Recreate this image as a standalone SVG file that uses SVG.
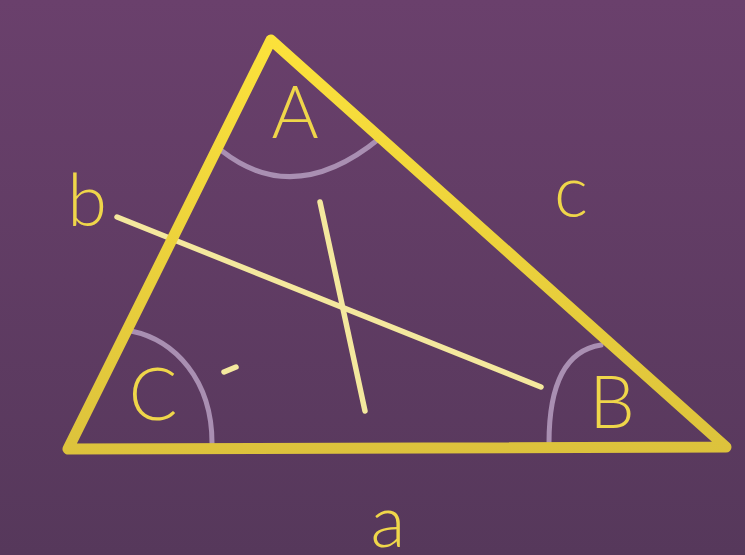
<svg xmlns="http://www.w3.org/2000/svg" width="745" height="555" viewBox="0 0 745 555">
<defs>
<linearGradient id="bg" x1="0" y1="0" x2="0" y2="555" gradientUnits="userSpaceOnUse">
<stop offset="0" stop-color="#6a406c"/>
<stop offset="1" stop-color="#56385b"/>
</linearGradient>
<linearGradient id="ylw" x1="0" y1="35" x2="0" y2="455" gradientUnits="userSpaceOnUse">
<stop offset="0" stop-color="#fce23b"/>
<stop offset="1" stop-color="#dcc23c"/>
</linearGradient>
<style>
.lbl{font-family:"Lato","Open Sans","Liberation Sans",sans-serif;font-weight:300;font-size:72px;fill:#efd64a;text-anchor:middle}
.arc{fill:none;stroke:#a98fb2;stroke-width:5;stroke-linecap:round}
.ln{fill:none;stroke:#f4e89e;stroke-width:5.5;stroke-linecap:round}
</style>
</defs>
<rect width="745" height="555" fill="url(#bg)"/>
<g id="arcs">
<path class="arc" d="M222 151 Q295 208 380 138"/>
<path class="arc" d="M131 331 C175 340 212 380 212 443"/>
<path class="arc" d="M601 345 C568 350 549 380 549 443"/>
</g>
<g id="connectors">
<line class="ln" x1="117" y1="217" x2="541" y2="387"/>
<line class="ln" x1="320" y1="202" x2="365" y2="411"/>
<line class="ln" x1="224" y1="372" x2="236" y2="367"/>
</g>
<g id="triangle">
<polygon points="271,40 68,449 726,447" fill="none" stroke="url(#ylw)" stroke-width="11" stroke-linejoin="round"/>
</g>
<g id="label-A"><text class="lbl" x="295" y="138">A</text></g>
<g id="label-B"><text class="lbl" x="612" y="428">B</text></g>
<g id="label-C"><text class="lbl" x="153" y="420">C</text></g>
<g id="label-a"><text class="lbl" x="388" y="547">a</text></g>
<g id="label-b"><text class="lbl" x="87" y="226">b</text></g>
<g id="label-c"><text class="lbl" x="571" y="217">c</text></g>
</svg>
